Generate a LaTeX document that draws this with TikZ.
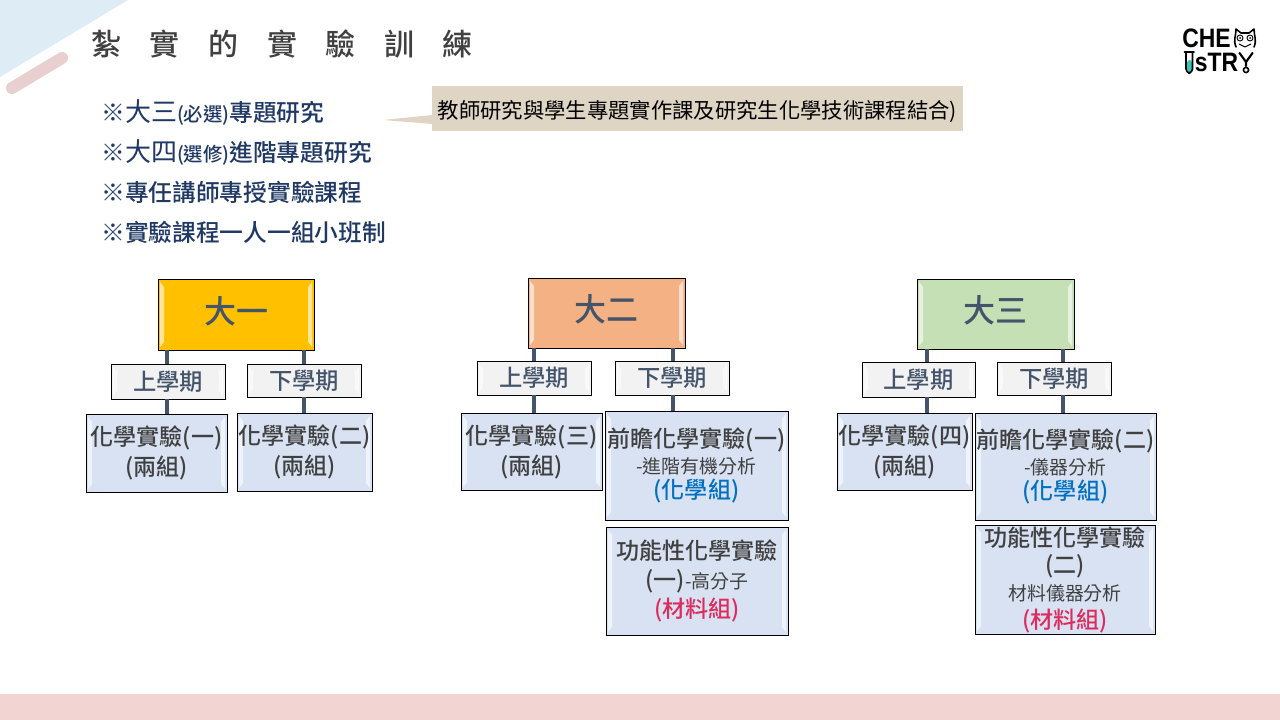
\documentclass[tikz,border=0pt]{standalone}
\usepackage{fontspec}
\setmainfont{Noto Sans CJK TC}[BoldFont={Noto Sans CJK TC Medium}]
\newfontfamily\logofont{Liberation Sans}
\usetikzlibrary{calc}
\definecolor{Ink}{HTML}{404040}
\definecolor{Slate}{HTML}{44546A}
\definecolor{Navy}{HTML}{1F3864}
\definecolor{SkySoft}{HTML}{DEEDF5}
\definecolor{Rose}{HTML}{E9CFCF}
\definecolor{RoseBar}{HTML}{F2D5D3}
\definecolor{Tan}{HTML}{DFD5C5}
\definecolor{Gold}{HTML}{FFC000}
\definecolor{Peach}{HTML}{F4B183}
\definecolor{Leaf}{HTML}{C5E0B4}
\definecolor{Term}{HTML}{F2F2F2}
\definecolor{Lab}{HTML}{D9E2F3}
\definecolor{ChemBlue}{HTML}{0070C0}
\definecolor{MatRed}{HTML}{DC2C5E}
\definecolor{Tube}{HTML}{35C9B5}
\newcommand{\subline}[1]{{\fontsize{14.2}{10}\selectfont\mdseries #1}}
\newcommand{\bigline}[1]{{\fontsize{19.5}{10}\selectfont\mdseries #1}}
\newcommand{\tinyline}[1]{{\fontsize{14.5}{10}\selectfont #1}}
\tikzset{
  wh/.style 2 args={minimum width=#1*.75pt,minimum height=#2*.75pt},
  bevel/.style={path picture={
    \fill[white,opacity=.6] ([shift={(2,3)}]path picture bounding box.north west) -- ([shift={(6,8)}]path picture bounding box.north west) -- ([shift={(6,-8)}]path picture bounding box.south west) -- ([shift={(2,-3)}]path picture bounding box.south west) -- cycle;
    \fill[white,opacity=.6] ([shift={(-2,3)}]path picture bounding box.north east) -- ([shift={(-6,8)}]path picture bounding box.north east) -- ([shift={(-6,-8)}]path picture bounding box.south east) -- ([shift={(-2,-3)}]path picture bounding box.south east) -- cycle;
  }},
  cell/.style={draw=black,line width=.6pt,inner sep=0pt,outer sep=0pt,align=center,bevel},
  year/.style={cell,text=Slate,font=\fontsize{24}{28}\selectfont\bfseries,text depth=7pt},
  term/.style={cell,fill=Term,text=Slate,font=\fontsize{17.5}{20}\selectfont\bfseries},
  lab/.style={cell,fill=Lab,text=Ink,font=\fontsize{17.3}{22.5}\selectfont\bfseries,execute at begin node={\rule{0pt}{19pt}}},
  labtall/.style={lab,font=\fontsize{17.3}{19}\selectfont\bfseries},
  labwide/.style={lab,font=\fontsize{17.3}{21.5}\selectfont\bfseries,execute at begin node={}},
  lablong/.style={lab,font=\fontsize{17.3}{20.5}\selectfont\bfseries},
  stem/.style={draw=Slate,line width=3pt},
  item/.style={anchor=base west,inner sep=0pt,text=Navy,font=\fontsize{17.8}{22}\selectfont\bfseries},
  logotext/.style={anchor=base west,inner sep=0pt,text=black,font=\logofont\fontsize{20}{22}\selectfont\bfseries},
  logoline/.style={draw=black,line width=1.2pt,line cap=round,line join=round}
}
\begin{document}
\begin{tikzpicture}[x=.75pt,y=-.75pt]
\useasboundingbox (0,0) rectangle (1280,720);
% backdrop
\fill[SkySoft] (0,0) -- (128,0) -- (0,77) -- cycle;
\draw[Rose,line width=9pt,line cap=round] (12,88) -- (62,58);
\fill[RoseBar] (0,694) rectangle (1280,720);
\node[anchor=base west,inner sep=0pt,text=Ink,font=\fontsize{22.5}{26}\selectfont\bfseries] (title) at (91,56) {紮\hspace{.953em}實\hspace{.953em}的\hspace{.953em}實\hspace{.953em}驗\hspace{.953em}訓\hspace{.953em}練};
% list
\node[item] (itemA) at (101,122) {※\bigline{大三}\tinyline{(必選)}專題研究};
\node[item] (itemB) at (101,162) {※\bigline{大四}\tinyline{(選修)}進階專題研究};
\node[item] (itemC) at (101,202) {※專任講師專授實驗課程};
\node[item] (itemD) at (101,242) {※實驗課程一人一組小班制};
% callout
\node[fill=Tan,inner sep=0pt,outer sep=0pt,wh={531}{45},text=black,font=\fontsize{16}{18}\selectfont,execute at begin node={\rule{0pt}{18pt}}] (note) at (697.5,108.5) {教師研究與學生專題實作課及研究生化學技術課程結合)};
\coordinate (noteTip) at (383,120);
\fill[Tan] (note.west |- 0,115) -- (noteTip) -- (note.west |- 0,124) -- cycle;
% first year
\node[year,fill=Gold,wh={156}{71}] (yrA) at (236,314.5) {大一};
\node[term,wh={114}{35}] (upA) at (168,381.5) {上學期};
\node[term,wh={114}{33}] (dnA) at (304,380.5) {下學期};
\node[lab,wh={141}{78}] (labA) at (156.5,453) {化學實驗(一)\\(兩組)};
\node[lab,wh={135}{78}] (labB) at (304.5,452) {化學實驗(二)\\(兩組)};
% second year
\node[year,fill=Peach,wh={157}{70}] (yrB) at (606.5,313) {大二};
\node[term,wh={114}{34}] (upB) at (534,378) {上學期};
\node[term,wh={114}{34}] (dnB) at (672,378) {下學期};
\node[lab,wh={141}{77}] (labC) at (531.5,451.5) {化學實驗(三)\\(兩組)};
\node[labtall,wh={183}{109}] (labD) at (696.5,465.5) {前瞻化學實驗(一)\\\subline{-進階有機分析}\\\textcolor{ChemBlue}{(化學組)}};
\node[labwide,wh={182}{108}] (labE) at (697,581) {功能性化學實驗\\(一)\subline{-高分子}\\\textcolor{MatRed}{(材料組)}};
% third year
\node[year,fill=Leaf,wh={157}{70}] (yrC) at (995.5,314) {大三};
\node[term,wh={113}{35}] (upC) at (918.5,379.5) {上學期};
\node[term,wh={114}{33}] (dnC) at (1054,378.5) {下學期};
\node[lab,wh={135}{77}] (labF) at (904.5,451.5) {化學實驗(四)\\(兩組)};
\node[labtall,wh={181}{107}] (labG) at (1065.5,466.5) {前瞻化學實驗(二)\\\subline{-儀器分析}\\\textcolor{ChemBlue}{(化學組)}};
\node[lablong,wh={180}{109}] (labH) at (1065,579.5) {功能性化學實驗\\(二)\\\subline{材料儀器分析}\\\textcolor{MatRed}{(材料組)}};
% connectors
\foreach \yr/\tm/\lb/\px in {yrA/upA/labA/167,yrA/dnA/labB/304,yrB/upB/labC/534,yrB/dnB/labD/673,yrC/upC/labF/927,yrC/dnC/labG/1063}{
  \draw[stem] (\yr.south -| \px,0) -- (\tm.north -| \px,0);
  \draw[stem] (\tm.south -| \px,0) -- (\lb.north -| \px,0);
}
% logo
\node[logotext] (logoTop) at (1182,47.5) {\scalebox{.86}[1]{CHE}};
\node[logotext] (logoLow) at (1194.5,72) {\scalebox{.86}[1]{sTR}};
\draw[logoline] (1236,47) .. controls (1233,40) and (1236,36) .. (1236,29) -- (1241,33) -- (1249,33) -- (1254,29) .. controls (1254,36) and (1257,40) .. (1254,47);
\draw[logoline,line width=.7pt] (1240,38) circle (3) (1250,38) circle (3);
\fill (1240,38) circle (1) (1250,38) circle (1);
\draw[logoline,line width=.7pt] (1239,44) -- (1245,47) -- (1251,44);
\fill[Tube,rounded corners=2] (1187,60) rectangle (1192,72);
\draw[logoline,rounded corners=3] (1186,52) -- (1186,73) -- (1192.5,73) -- (1192.5,52);
\draw[logoline] (1184.5,52) -- (1194,52);
\draw[logoline,line width=1.6pt] (1239.5,53) -- (1246,62) -- (1252.5,53) (1246,62) -- (1246,66);
\draw[logoline] (1246,70) circle (2.6);
\end{tikzpicture}
\end{document}
